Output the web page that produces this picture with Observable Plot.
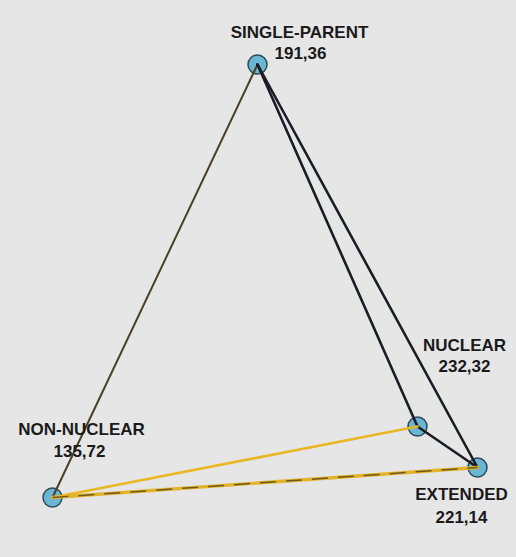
<!DOCTYPE html>
<html>
<head>
<meta charset="utf-8">
<script src="https://cdn.jsdelivr.net/npm/d3@7"></script>
<script src="https://cdn.jsdelivr.net/npm/@observablehq/plot@0.6"></script>
<style>
  html, body { margin: 0; padding: 0; background: #e6e6e6; }
  #chart svg { display: block; }
</style>
</head>
<body>
<div id="chart"></div>
<script>
// Node names, values and layout positions (abstract layout units)
const nodeNames = ["SINGLE-PARENT", "NUCLEAR", "EXTENDED", "NON-NUCLEAR"];
const nodeValues = ["191,36", "232,32", "221,14", "135,72"];
const nodeX = [257, 417, 477, 52];
const nodeY = [64, 426, 467, 497];

// Edges: source index, target index, colour group
const edgeSource = [3, 0, 0, 1, 3, 3];
const edgeTarget = [0, 1, 2, 2, 1, 2];
const edgeKind   = ["olive", "black", "black", "black", "yellow", "twist"];

const nodes = nodeNames.map((name, i) => ({name, value: nodeValues[i], x: nodeX[i], y: nodeY[i]}));
const edges = edgeSource.map((s, i) => ({
  x1: nodeX[s], y1: nodeY[s], x2: nodeX[edgeTarget[i]], y2: nodeY[edgeTarget[i]], kind: edgeKind[i]
}));

// Label offsets (px) from each node: [name dx, name dy, value dx, value dy]
const labelOffsets = [
  [42, -32, 43, -11],
  [47, -81, 47, -60],
  [-16, 27, -16, 50],
  [29, -68, 27, -46]
];

const W = 516, H = 557;
const colorOf = {olive: "#4a4224", black: "#1b1d26", yellow: "#e9b726", twist: "#e3b42a"};
const widthOf = {olive: 2, black: 2.6, yellow: 2.6, twist: 3.4};

const font = "'Liberation Sans', Arial, sans-serif";
const textStyle = {fontSize: 17, fontWeight: "bold", fill: "#1a1a1a"};

const labelMarks = nodes.flatMap((n, i) => {
  const [ndx, ndy, vdx, vdy] = labelOffsets[i];
  return [
    Plot.text([n], {x: "x", y: "y", text: "name", dx: ndx, dy: ndy, ...textStyle}),
    Plot.text([n], {x: "x", y: "y", text: "value", dx: vdx, dy: vdy, ...textStyle})
  ];
});

const plot = Plot.plot({
  width: W,
  height: H,
  margin: 0,
  x: {domain: [0, W], axis: null},
  y: {domain: [H, 0], axis: null},
  style: {background: "#e6e6e6", fontFamily: font},
  marks: [
    Plot.dot(nodes, {
      x: "x", y: "y", r: 9.5,
      fill: "#6bb6d2", stroke: "#2b4b5a", strokeWidth: 1.5
    }),
    Plot.link(edges, {
      x1: "x1", y1: "y1", x2: "x2", y2: "y2",
      stroke: d => colorOf[d.kind],
      strokeWidth: d => widthOf[d.kind],
      strokeLinecap: "round"
    }),
    Plot.link(edges.filter(d => d.kind === "twist"), {
      x1: "x1", y1: "y1", x2: "x2", y2: "y2",
      stroke: "#4f4218",
      strokeWidth: 1.5,
      strokeOpacity: 0.8,
      strokeDasharray: "16,10"
    }),
    ...labelMarks
  ]
});

document.getElementById("chart").appendChild(plot);
</script>
</body>
</html>
